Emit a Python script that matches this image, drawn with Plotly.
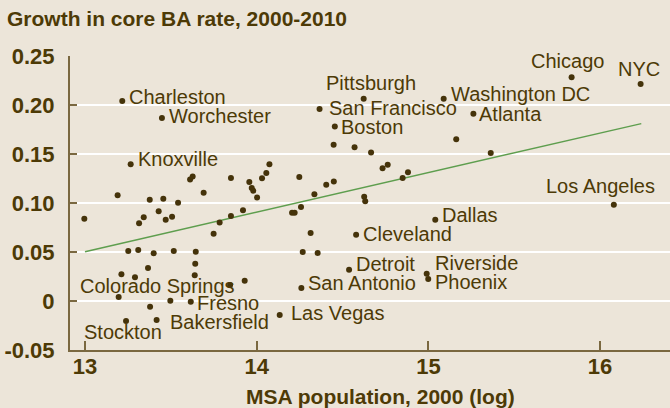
import plotly.graph_objects as go

# ---- data ----
log_pop = [
    12.996, 13.19, 13.217, 13.266, 13.448, 13.377, 13.456, 13.542, 13.429, 13.342,
    13.315, 13.47, 13.507, 13.612, 13.627, 13.691, 13.85, 13.784, 13.749, 13.85,
    13.92, 13.957, 13.971, 13.98, 14.002, 14.031, 14.056, 14.074, 13.252, 13.31,
    13.40, 13.517, 13.645, 13.212, 13.291, 13.367, 13.642, 13.639, 13.845, 13.93,
    13.196, 13.379, 13.497, 13.616, 13.239, 13.417, 14.134, 14.26, 14.314, 14.268,
    14.355, 14.206, 14.221, 14.258, 14.248, 14.336, 14.405, 14.449, 14.366, 14.455,
    14.448, 14.57, 14.666, 14.623, 14.733, 14.763, 14.85, 14.881, 14.626, 14.632,
    14.579, 14.538, 14.99, 14.999, 15.04, 15.089, 15.262, 15.162, 15.363, 15.834,
    16.236, 16.08,
]
ba_growth = [
    0.084, 0.108, 0.204, 0.1395, 0.1867, 0.1034, 0.1044, 0.1003, 0.0915, 0.0854,
    0.0793, 0.083, 0.086, 0.124, 0.127, 0.1105, 0.1255, 0.080, 0.0687, 0.0867,
    0.0927, 0.1214, 0.1153, 0.1126, 0.1056, 0.1252, 0.1306, 0.1395, 0.051, 0.052,
    0.0487, 0.051, 0.0503, 0.0272, 0.0242, 0.0337, 0.038, 0.0262, 0.0163, 0.0207,
    0.0041, -0.0058, 0.0003, -0.0007, -0.0204, -0.0194, -0.0143, 0.0133, 0.0694, 0.050,
    0.049, 0.090, 0.090, 0.0958, 0.1266, 0.1089, 0.1187, 0.122, 0.196, 0.178,
    0.1595, 0.157, 0.1515, 0.2064, 0.1355, 0.139, 0.1255, 0.1313, 0.1064, 0.1018,
    0.0675, 0.032, 0.0279, 0.0224, 0.0828, 0.2064, 0.191, 0.165, 0.151, 0.2283,
    0.2214, 0.0982,
]
city = [""] * len(log_pop)
city[2] = "Charleston"
city[3] = "Knoxville"
city[4] = "Worchester"
city[34] = "Colorado Springs"
city[43] = "Fresno"
city[44] = "Stockton"
city[45] = "Bakersfield"
city[46] = "Las Vegas"
city[47] = "San Antonio"
city[58] = "San Francisco"
city[59] = "Boston"
city[63] = "Pittsburgh"
city[70] = "Cleveland"
city[71] = "Detroit"
city[72] = "Riverside"
city[73] = "Phoenix"
city[74] = "Dallas"
city[75] = "Washington DC"
city[76] = "Atlanta"
city[79] = "Chicago"
city[80] = "NYC"
city[81] = "Los Angeles"

trend_x = [13.0, 16.24]
trend_y = [0.0503, 0.181]

x_ticks = [13, 14, 15, 16]
y_ticks = [-0.05, 0, 0.05, 0.10, 0.15, 0.20, 0.25]
y_ticktext = ["-0.05", "0", "0.05", "0.10", "0.15", "0.20", "0.25"]

title_text = "Growth in core BA rate, 2000-2010"
xaxis_title = "MSA population, 2000 (log)"

# ---- styles ----
BG = "#ECE5D9"
TXT = "#4D3A06"
AXIS = "#7A6840"
DOT = "#45330A"
GREEN = "#5E9E4E"
LABEL_FONT = "Liberation Sans, Arial, sans-serif"
BOLD_FONT = "Liberation Sans, Arial, sans-serif"

# label placement: (xanchor, yanchor, xshift, yshift)
label_style = {
    "Charleston": ("left", "middle", 5, 4),
    "Worchester": ("left", "middle", 5, 2),
    "Knoxville": ("left", "middle", 5, 5),
    "San Francisco": ("left", "middle", 7, 1),
    "Boston": ("left", "middle", 4, 0),
    "Washington DC": ("left", "middle", 5, 5),
    "Atlanta": ("left", "middle", 4, 0),
    "Dallas": ("left", "middle", 5, 5),
    "Cleveland": ("left", "middle", 5, 1),
    "Detroit": ("left", "middle", 5, 6),
    "San Antonio": ("left", "middle", 5, 5),
    "Riverside": ("left", "middle", 6, 11),
    "Phoenix": ("left", "middle", 5, -3),
    "Las Vegas": ("left", "middle", 9, 2),
    "Fresno": ("left", "middle", 4, -1),
    "Bakersfield": ("left", "middle", 11, -2),
    "Pittsburgh": ("center", "middle", 7, 16),
    "Chicago": ("center", "middle", -4, 16),
    "NYC": ("center", "middle", -2, 15),
    "Los Angeles": ("center", "middle", -13, 19),
    "Stockton": ("center", "middle", -3, -11),
    "Colorado Springs": ("center", "middle", 23, -9),
}

fig = go.Figure()
fig.add_trace(go.Scatter(
    x=trend_x, y=trend_y, mode="lines",
    line=dict(color=GREEN, width=1.5), hoverinfo="skip", showlegend=False,
))
fig.add_trace(go.Scatter(
    x=log_pop, y=ba_growth, mode="markers",
    marker=dict(color=DOT, size=6, line=dict(width=0)),
    text=city, showlegend=False,
))

for xv, yv, name in zip(log_pop, ba_growth, city):
    if not name:
        continue
    xa, ya, xs, ys = label_style[name]
    fig.add_annotation(
        x=xv, y=yv, text=name, showarrow=False,
        xanchor=xa, yanchor=ya, xshift=xs, yshift=ys,
        font=dict(family=LABEL_FONT, size=20, color=TXT),
    )

fig.add_annotation(
    xref="paper", yref="paper", x=0.5175, y=-0.159,
    text=xaxis_title, showarrow=False,
    xanchor="center", yanchor="middle",
    font=dict(family=BOLD_FONT, size=21, color=TXT, weight="bold"),
)

fig.update_layout(
    width=670, height=408,
    margin=dict(l=70, r=0, t=56, b=58),
    paper_bgcolor=BG, plot_bgcolor=BG,
    title=dict(
        text=title_text,
        xref="container", yref="container",
        x=7 / 670, xanchor="left", y=1 - 19 / 408, yanchor="middle",
        font=dict(family=BOLD_FONT, size=21, color=TXT, weight="bold"),
    ),
    xaxis=dict(
        range=[12.9126, 16.4071], tickvals=x_ticks,
        showgrid=False, zeroline=False,
        showline=True, linecolor=AXIS, linewidth=2,
        ticks="inside", ticklen=9, tickwidth=1.5, tickcolor=AXIS,
        ticklabelstandoff=-4,
        tickfont=dict(family=BOLD_FONT, size=22, color=TXT, weight="bold"),
    ),
    yaxis=dict(
        range=[-0.05, 0.25], tickvals=y_ticks, ticktext=y_ticktext,
        showgrid=True, gridcolor="white", gridwidth=2, zeroline=False,
        showline=True, linecolor=AXIS, linewidth=2,
        ticks="inside", ticklen=7, tickwidth=1.5, tickcolor=AXIS,
        ticklabelstandoff=9,
        tickfont=dict(family=BOLD_FONT, size=22, color=TXT, weight="bold"),
    ),
)

fig.write_html(
    "out.html",
    config={"displayModeBar": False},
    post_script="document.body.style.margin='0px';document.body.style.background='" + BG + "';",
)
